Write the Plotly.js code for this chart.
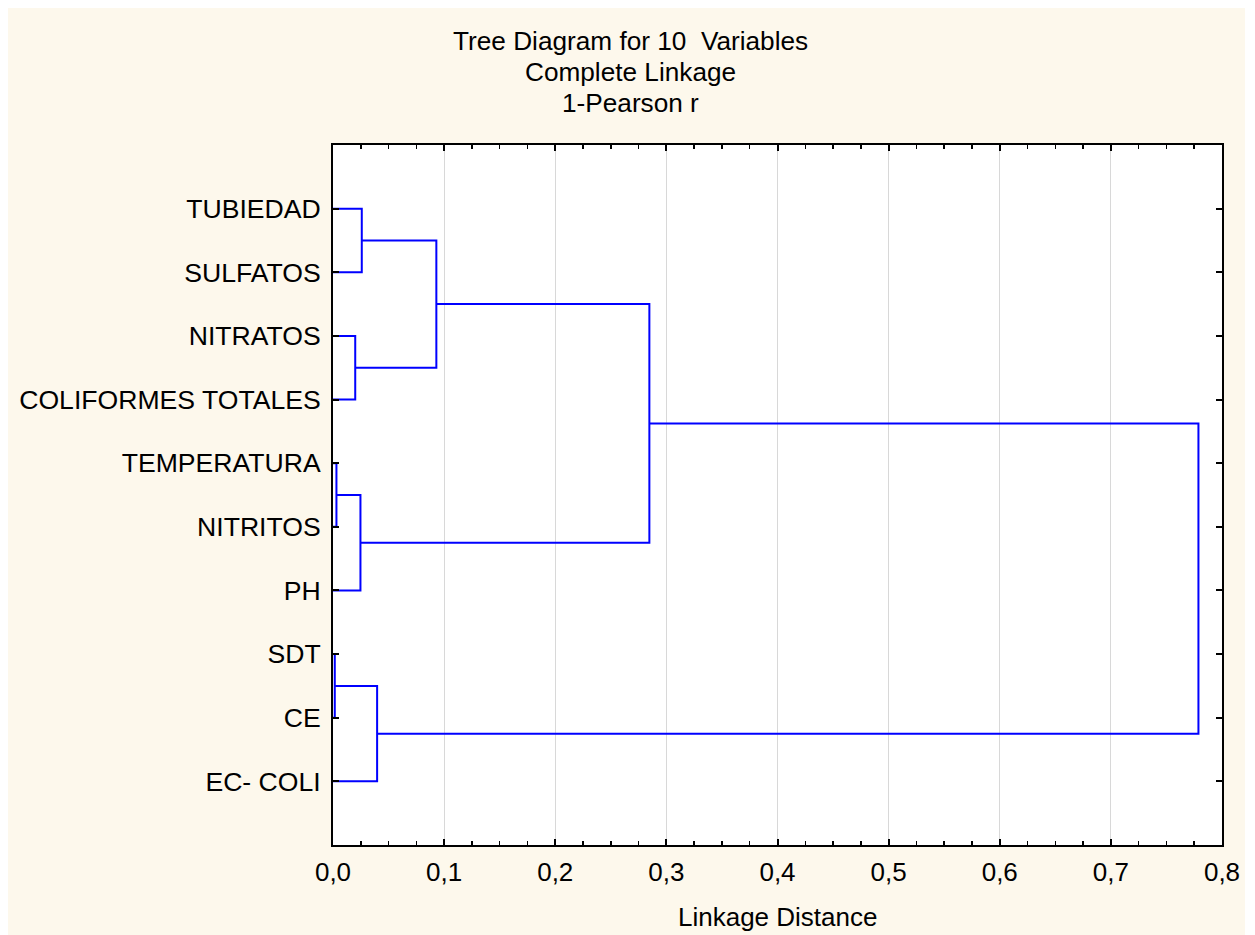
<!DOCTYPE html>
<html>
<head>
<meta charset="utf-8">
<script src="https://cdn.plot.ly/plotly-3.0.1.min.js"></script>
<style>
  html, body { margin: 0; padding: 0; background: #ffffff; }
  #chart { position: absolute; left: 8px; top: 8px; width: 1237px; height: 927px; }
</style>
</head>
<body>
<div id="chart"></div>
<script>
// Leaf labels, top to bottom (dendrogram leaf order)
const leafLabels = ["TUBIEDAD", "SULFATOS", "NITRATOS", "COLIFORMES TOTALES", "TEMPERATURA",
                    "NITRITOS", "PH", "SDT", "CE", "EC- COLI"];
// Merge table: cluster ids 0..9 are leaves; merge k creates cluster 10+k
const mergeA    = [4,      7,      2,     10,     0,      11,     14,    16,     17];
const mergeB    = [5,      8,      3,     6,      1,      9,      12,    13,     15];
const mergeDist = [0.0031, 0.0016, 0.020, 0.0247, 0.0259, 0.0397, 0.093, 0.2847, 0.7788];
// Axis ticks
const xTickVals = [0, 0.1, 0.2, 0.3, 0.4, 0.5, 0.6, 0.7, 0.8];

// Build dendrogram segments from merge table
const nodeX = {}, nodeY = {};
leafLabels.forEach((l, i) => { nodeX[i] = 0; nodeY[i] = i + 1; });
const xs = [], ys = [];
mergeA.forEach((a, k) => {
  const b = mergeB[k], d = mergeDist[k], id = leafLabels.length + k;
  xs.push(nodeX[a], d, d, nodeX[b], null);
  ys.push(nodeY[a], nodeY[a], nodeY[b], nodeY[b], null);
  nodeX[id] = d;
  nodeY[id] = (nodeY[a] + nodeY[b]) / 2;
});

const FONT = "Liberation Sans, Arial, sans-serif";
const trace = {
  x: xs, y: ys, type: "scatter", mode: "lines",
  line: { color: "#0000ff", width: 2 },
  hoverinfo: "skip", showlegend: false
};
// empty helper trace so the top (mirror) axis with minor ticks is drawn
const topTrace = {
  x: [null], y: [null], xaxis: "x2", yaxis: "y", type: "scatter", mode: "lines",
  hoverinfo: "skip", showlegend: false
};

const tickStyle = { ticks: "inside", ticklen: 6, tickwidth: 2, tickcolor: "#000000" };
const minorStyle = { dtick: 0.025, tick0: 0, ticks: "inside", ticklen: 4, tickwidth: 1.5, tickcolor: "#000000", showgrid: false };

const titleX = (630 - 332.5) / (1222 - 332.5);
const layout = {
  width: 1237, height: 927,
  paper_bgcolor: "#fdf8ec",
  plot_bgcolor: "#ffffff",
  separators: ",.",
  margin: { l: 325, r: 23, t: 137, b: 90, pad: 0 },
  font: { family: FONT, size: 26, color: "#000000" },
  xaxis: Object.assign({
    range: [0, 0.8], tickvals: xTickVals, tickformat: ".1f",
    showgrid: true, gridcolor: "#d8d8d8", gridwidth: 1, zeroline: false,
    showline: true, linecolor: "#000000", linewidth: 2, mirror: true,
    ticklabelstandoff: 3,
    minor: minorStyle,
    tickfont: { family: FONT, size: 26, color: "#000000" },
    fixedrange: true
  }, tickStyle),
  xaxis2: Object.assign({
    overlaying: "x", side: "top", anchor: "y", range: [0, 0.8], tickvals: xTickVals,
    showticklabels: false, showgrid: false, zeroline: false, showline: false,
    minor: minorStyle, fixedrange: true
  }, tickStyle),
  yaxis: Object.assign({
    range: [11, 0], tickvals: leafLabels.map((l, i) => i + 1), ticktext: leafLabels,
    showgrid: false, zeroline: false,
    showline: true, linecolor: "#000000", linewidth: 2, mirror: "ticks",
    ticklabelstandoff: 5,
    tickfont: { family: FONT, size: 26.6, color: "#000000" },
    fixedrange: true
  }, tickStyle),
  annotations: [
    { text: "Tree Diagram for 10\u00a0 Variables", xref: "paper", yref: "paper", x: titleX, y: 1,
      xanchor: "center", yanchor: "middle", yshift: 104, showarrow: false, font: { family: FONT, size: 26.2 } },
    { text: "Complete Linkage", xref: "paper", yref: "paper", x: titleX, y: 1,
      xanchor: "center", yanchor: "middle", yshift: 73, showarrow: false, font: { family: FONT, size: 26.2 } },
    { text: "1-Pearson r", xref: "paper", yref: "paper", x: titleX, y: 1,
      xanchor: "center", yanchor: "middle", yshift: 42, showarrow: false, font: { family: FONT, size: 26.2 } },
    { text: "Linkage Distance", xref: "paper", yref: "paper", x: 0.5, y: 0,
      xanchor: "center", yanchor: "middle", yshift: -72, showarrow: false, font: { family: FONT, size: 26 } }
  ]
};

Plotly.newPlot("chart", [trace, topTrace], layout, { displayModeBar: false, staticPlot: true });
</script>
</body>
</html>
